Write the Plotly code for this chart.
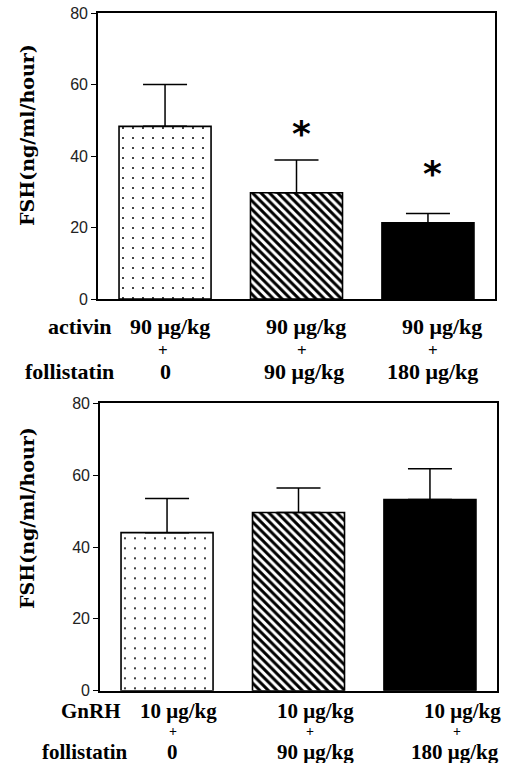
import plotly.graph_objects as go

# ---------------- data ----------------
groups = [0, 1, 2]
top_means = [48.3, 29.7, 21.3]
top_err = [11.7, 9.2, 2.6]
top_star_y = [None, 47.8, 36.6]
top_row1_name = "activin"
top_row1 = ["90 μg/kg", "90 μg/kg", "90 μg/kg"]
top_row3_name = "follistatin"
top_row3 = ["0", "90 μg/kg", "180 μg/kg"]

bot_means = [44.0, 49.6, 53.2]
bot_err = [9.5, 6.8, 8.6]
bot_row1_name = "GnRH"
bot_row1 = ["10 μg/kg", "10 μg/kg", "10 μg/kg"]
bot_row3_name = "follistatin"
bot_row3 = ["0", "90 μg/kg", "180 μg/kg"]

y_ticks = [0, 20, 40, 60, 80]
y_title = "FSH(ng/ml/hour)"

# ---------------- styling ----------------
W, H = 506, 763
def px(x):
    return x / W
def py(y):
    return 1 - y / H

patterns = [
    dict(shape=".", size=10, solidity=0.03, fgcolor="black", bgcolor="white", fillmode="replace"),
    dict(shape="\\", size=6, solidity=0.5, fgcolor="black", bgcolor="white", fillmode="replace"),
    dict(shape="", fgcolor="black", bgcolor="black"),
]
colors = ["white", "white", "black"]

fig = go.Figure()

def add_bars(means, errs, xa, ya):
    for i in groups:
        fig.add_trace(go.Bar(
            x=[groups[i]], y=[means[i]], width=0.70,
            marker=dict(color=colors[i], pattern=patterns[i],
                        line=dict(color="black", width=1.6)),
            error_y=dict(type="data", symmetric=False, array=[errs[i]], arrayminus=[0],
                         color="black", thickness=1.5, width=22),
            xaxis=xa, yaxis=ya, showlegend=False, hoverinfo="skip",
        ))

add_bars(top_means, top_err, "x", "y")
add_bars(bot_means, bot_err, "x2", "y2")

axis_common = dict(showline=True, linecolor="black", linewidth=1.6, mirror=True,
                   showgrid=False, zeroline=False)
tick_font = dict(family="Liberation Sans", size=16, color="#222")
xr = [-0.51, 2.51]
fig.update_layout(
    width=W, height=H, margin=dict(l=0, r=0, t=0, b=0, autoexpand=False),
    paper_bgcolor="white", plot_bgcolor="white", barmode="overlay",
    xaxis=dict(domain=[px(98), px(495)], range=xr, showticklabels=False, ticks="",
               anchor="y", **axis_common),
    yaxis=dict(domain=[py(299), py(13)], range=[0, 80], tickvals=y_ticks,
               ticks="outside", ticklen=5, tickwidth=1.3, tickcolor="black",
               tickfont=tick_font, anchor="x", **axis_common),
    xaxis2=dict(domain=[px(100), px(497)], range=xr, showticklabels=False, ticks="",
                anchor="y2", **axis_common),
    yaxis2=dict(domain=[py(690.7), py(403.3)], range=[0, 80], tickvals=y_ticks,
                ticks="outside", ticklen=5, tickwidth=1.3, tickcolor="black",
                tickfont=tick_font, anchor="x2", **axis_common),
)

ann = []
# significance stars (glyph sits high in its box, so shift down)
for g, s in zip(groups, top_star_y):
    if s is None:
        continue
    ann.append(dict(text="<b>*</b>", x=g, y=s, xref="x", yref="y", showarrow=False,
                    font=dict(family="DejaVu Sans", size=36, color="black"),
                    xanchor="center", yanchor="middle", xshift=5, yshift=-5))

title_font = dict(family="DejaVu Serif", size=19, color="black")
ann.append(dict(text="<b>%s</b>" % y_title, x=px(27), y=py(135), xref="paper", yref="paper",
                textangle=-90, showarrow=False, font=title_font, xanchor="center", yanchor="middle"))
ann.append(dict(text="<b>%s</b>" % y_title, x=px(27), y=py(518), xref="paper", yref="paper",
                textangle=-90, showarrow=False, font=title_font, xanchor="center", yanchor="middle"))

lab_font = dict(family="Liberation Serif", size=22, color="black")
bot_font = dict(family="Liberation Serif", size=21, color="black")
plus_font = dict(family="Liberation Serif", size=17, color="black")
bot_plus_font = dict(family="Liberation Serif", size=14, color="black")
def lab(text, x, y, anchor="center", font=lab_font):
    ann.append(dict(text="<b>%s</b>" % text, x=px(x), y=py(y), xref="paper", yref="paper",
                    showarrow=False, font=font, xanchor=anchor, yanchor="middle",
                    borderpad=0))

# top panel labels
lab(top_row1_name, 113, 326, "right")
for t, x in zip(top_row1, [169.5, 305.7, 441.7]):
    lab(t, x, 326)
for x in [163, 302, 433]:
    lab("+", x, 350, font=plus_font)
lab(top_row3_name, 115, 371, "right")
for t, x in zip(top_row3, [165, 303.5, 432.5]):
    lab(t, x, 371)

# bottom panel labels
lab(bot_row1_name, 122, 710.5, "right", font=bot_font)
for t, x in zip(bot_row1, [178.5, 315, 462]):
    lab(t, x, 710.5, font=bot_font)
for x in [173, 310, 457]:
    lab("+", x, 731.5, font=bot_plus_font)
lab(bot_row3_name, 128, 752, "right", font=bot_font)
for t, x in zip(bot_row3, [172, 315.5, 455]):
    lab(t, x, 752, font=bot_font)

fig.update_layout(annotations=ann)
fig.write_html("out.html", config={"displayModeBar": False},
               post_script="document.body.style.margin='0px';document.body.style.overflow='hidden';")
